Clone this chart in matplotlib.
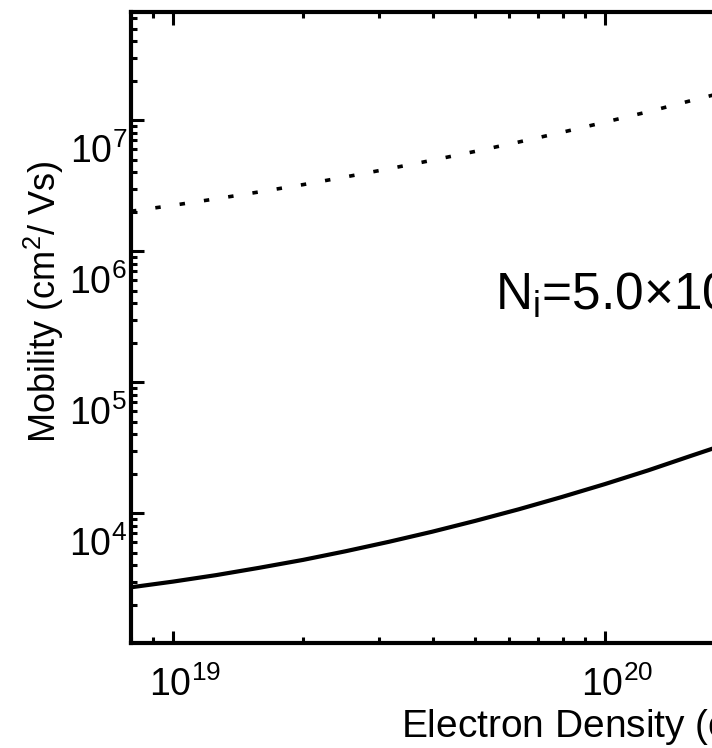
#!/usr/bin/env python
import numpy as np
import matplotlib
matplotlib.use('Agg')
import matplotlib.pyplot as plt
from matplotlib import ticker
from matplotlib.transforms import ScaledTranslation

# electron density (cm^-3), same grid for both curves
density = [8e18, 1e19, 1.26e19, 1.58e19, 2e19, 2.51e19, 3.16e19, 3.98e19,
	5.01e19, 6.31e19, 7.94e19, 1e20, 1.26e20, 1.58e20, 1.78e20]
# mobility (cm^2/Vs)
mob_solid = [2716, 3000, 3365, 3820, 4395, 5117, 6039, 7211,
	8730, 10690, 13270, 16670, 21230, 27350, 31190]
mob_dotted = [2.018e6, 2.239e6, 2.512e6, 2.831e6, 3.221e6, 3.690e6, 4.256e6, 4.943e6,
	5.781e6, 6.808e6, 8.072e6, 9.661e6, 1.161e7, 1.409e7, 1.556e7]

xlims = [8e18, 1e21]
ylims = [1.02e3, 6.7e7]
ni_label = 'N$_\\mathregular{i}$=5.0\u00d710$^{18}$ cm$^{-3}$'

if __name__ == '__main__':
	plt.rcParams['font.family'] = ['Liberation Sans', 'DejaVu Sans']
	plt.rcParams['mathtext.fontset'] = 'custom'
	plt.rcParams['mathtext.rm'] = 'Liberation Sans'
	plt.rcParams['mathtext.it'] = 'Liberation Sans:italic'
	plt.rcParams['mathtext.bf'] = 'Liberation Sans:bold'

	fig = plt.figure(figsize=(7.12, 7.48), dpi=100)
	# axes runs past the right edge, the picture is a crop of a wider plot
	ax = fig.add_axes([131/712, 105/748, 906/712, 631/748])

	ax.loglog(density, mob_solid, color='black', lw=3.0, solid_capstyle='butt')
	ax.loglog(density, mob_dotted, color='black', lw=2.6,
		linestyle=(0, (1.5, 5.3)), dash_capstyle='butt')

	ax.set_xlim(xlims)
	ax.set_ylim(ylims)

	for s in ax.spines.values():
		s.set_linewidth(3.0)

	ax.tick_params(which='both', direction='in', top=True, right=True, width=2.2, labelsize=27)
	ax.tick_params(which='major', length=9)
	ax.tick_params(which='minor', length=4.5)
	ax.tick_params(axis='y', pad=3)
	ax.tick_params(axis='x', pad=17)
	ax.xaxis.set_minor_formatter(ticker.NullFormatter())
	ax.yaxis.set_minor_formatter(ticker.NullFormatter())

	# labels sit off-centre from their ticks in the original
	for lab in ax.get_yticklabels():
		lab.set_transform(lab.get_transform() + ScaledTranslation(0, -0.28, fig.dpi_scale_trans))
	for lab in ax.get_xticklabels():
		lab.set_transform(lab.get_transform() + ScaledTranslation(0.12, 0, fig.dpi_scale_trans))

	ax.set_ylabel('Mobility (cm$^2$/ Vs)', fontsize=26)
	ax.yaxis.set_label_coords(-0.072, 0.54)
	ax.set_xlabel('Electron Density (cm$^{-3}$)', fontsize=28, ha='left', va='baseline')
	ax.xaxis.set_label_coords(0.298, -0.1506)

	ax.text(0.4018, 0.5277, ni_label, transform=ax.transAxes, fontsize=37,
		ha='left', va='baseline')

	fig.savefig('out.png', dpi=100)
